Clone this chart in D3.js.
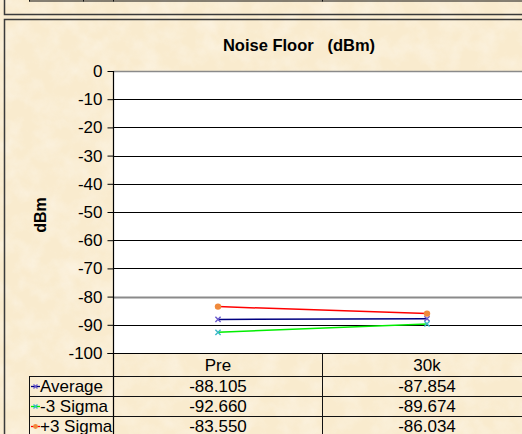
<!DOCTYPE html>
<html>
<head>
<meta charset="utf-8">
<script src="https://cdn.jsdelivr.net/npm/d3@7"></script>
<style>
  html, body { margin: 0; padding: 0; background: #fbefd6; }
  svg { display: block; }
  text { font-family: "Liberation Sans", Arial, sans-serif; }
</style>
</head>
<body>
<svg id="chart" width="522" height="434"></svg>
<script>
// Noise floor measurements per condition
const categories = ["Pre", "30k"];
const seriesNames = ["Average", "-3 Sigma", "+3 Sigma"];
const averageValues = [-88.105, -87.854];
const minus3SigmaValues = [-92.660, -89.674];
const plus3SigmaValues = [-83.550, -86.034];
const valueLabels = [
  ["-88.105", "-87.854"],
  ["-92.660", "-89.674"],
  ["-83.550", "-86.034"]
];
const yTicks = [0, -10, -20, -30, -40, -50, -60, -70, -80, -90, -100];

const series = [
  { name: seriesNames[0], values: averageValues, line: "#000080", marker: "#6a5acd", shape: "x" },
  { name: seriesNames[1], values: minus3SigmaValues, line: "#00ee00", marker: "#3bb8c8", shape: "x" },
  { name: seriesNames[2], values: plus3SigmaValues, line: "#ff0000", marker: "#f08a3c", shape: "circle" }
];

const W = 522, H = 434;
const FONT = "'Liberation Sans', Arial, sans-serif";
const plot = { left: 113.5, right: 531.5, top: 71, bottom: 353 };
const svg = d3.select("#chart");

// parchment background
const defs = svg.append("defs");
const f = defs.append("filter").attr("id", "paper").attr("x", 0).attr("y", 0).attr("width", "100%").attr("height", "100%");
f.append("feTurbulence").attr("type", "fractalNoise").attr("baseFrequency", 0.05).attr("numOctaves", 4).attr("seed", 7).attr("result", "n");
f.append("feColorMatrix").attr("in", "n").attr("type", "matrix")
  .attr("values", "0 0 0 0 1  0 0 0 0 1  0 0 0 0 1  1.2 0 0 0 -0.45");
svg.append("rect").attr("width", W).attr("height", H).attr("fill", "#f9ebce");
svg.append("rect").attr("width", W).attr("height", H).attr("fill", "#fffcf4").attr("filter", "url(#paper)").attr("opacity", 0.55);

// bottom edge of the panel above
svg.append("rect").attr("x", 4.5).attr("y", -40).attr("width", 560).attr("height", 54.5)
  .attr("fill", "none").attr("stroke", "#3a3a3a").attr("stroke-width", 1.5);
svg.append("line").attr("x1", 29).attr("x2", W).attr("y1", 1).attr("y2", 1).attr("stroke", "#111").attr("stroke-width", 1.2);
[29.5, 83.5, 113.5, 322.5].forEach(x => {
  svg.append("line").attr("x1", x).attr("x2", x).attr("y1", -5).attr("y2", 1.5).attr("stroke", "#111");
});

// chart panel
svg.append("rect").attr("x", 4.5).attr("y", 19.5).attr("width", 560).attr("height", 440)
  .attr("fill", "none").attr("stroke", "#3a3a3a").attr("stroke-width", 1.5);

const x = d3.scaleBand().domain(categories).range([plot.left, plot.right]);
const y = d3.scaleLinear().domain([-100, 0]).range([plot.bottom, plot.top]);
const cx = c => x(c) + x.bandwidth() / 2;

// plot area
svg.append("rect").attr("x", plot.left).attr("y", plot.top)
  .attr("width", plot.right - plot.left).attr("height", plot.bottom - plot.top).attr("fill", "#fff");

// gridlines
svg.append("g").selectAll("line").data(yTicks.filter(t => t > -100)).join("line")
  .attr("x1", plot.left).attr("x2", W)
  .attr("y1", d => Math.round(y(d)) + 0.5).attr("y2", d => Math.round(y(d)) + 0.5)
  .attr("stroke", d => (d === 0 || d === -80) ? "#8a8a8a" : "#000")
  .attr("stroke-width", d => d === -80 ? 1.8 : (d === 0 ? 1.5 : 1));

// y axis
const yAxis = d3.axisLeft(y).tickValues(yTicks).tickSize(6).tickPadding(5).tickFormat(d => String(d));
const ga = svg.append("g").attr("transform", `translate(${plot.left},0)`).call(yAxis);
ga.select(".domain").remove();
ga.attr("font-family", FONT).attr("font-size", 17);
ga.selectAll(".tick line").attr("stroke", "#000");
ga.selectAll(".tick text").attr("fill", "#000");
svg.append("line").attr("x1", plot.left).attr("x2", plot.left).attr("y1", plot.top).attr("y2", H)
  .attr("stroke", "#000").attr("stroke-width", 1.2);
svg.append("line").attr("x1", plot.left - 6).attr("x2", W).attr("y1", plot.bottom + 0.5).attr("y2", plot.bottom + 0.5)
  .attr("stroke", "#000").attr("stroke-width", 1.2);

// title and axis title
svg.append("text").attr("x", 299).attr("y", 51).attr("text-anchor", "middle")
  .attr("font-size", 16.5).attr("font-weight", "bold").attr("xml:space", "preserve").style("white-space", "pre")
  .text("Noise Floor   (dBm)");
svg.append("text").attr("transform", "translate(46,215) rotate(-90)").attr("text-anchor", "middle")
  .attr("font-size", 16).attr("font-weight", "bold").text("dBm");

// marker drawing
function drawMarker(g, shape, color, px, py, r) {
  if (shape === "circle") {
    g.append("circle").attr("cx", px).attr("cy", py).attr("r", r).attr("fill", color);
  } else {
    g.append("path").attr("d", `M${px - r},${py - r}L${px + r},${py + r}M${px - r},${py + r}L${px + r},${py - r}`)
      .attr("stroke", color).attr("stroke-width", 1.4).attr("fill", "none");
  }
}

// series lines
const line = d3.line().x((d, i) => cx(categories[i])).y(d => y(d));
series.forEach(s => {
  const g = svg.append("g");
  g.append("path").datum(s.values).attr("d", line).attr("fill", "none")
    .attr("stroke", s.line).attr("stroke-width", 1.5);
  s.values.forEach((v, i) => drawMarker(g, s.shape, s.marker, cx(categories[i]), y(v), s.shape === "circle" ? 3.2 : 2.6));
});

// data table under the plot
const rowTop = [353.5, 376.5, 396.5, 416.5, 436.5];
const tbl = svg.append("g").attr("font-size", 17);
tbl.selectAll("line.h").data(rowTop.slice(1, 4)).join("line")
  .attr("x1", 29).attr("x2", W).attr("y1", d => d).attr("y2", d => d).attr("stroke", "#111");
tbl.append("line").attr("x1", 29.5).attr("x2", 29.5).attr("y1", rowTop[1]).attr("y2", H).attr("stroke", "#111");
tbl.append("line").attr("x1", 322.5).attr("x2", 322.5).attr("y1", rowTop[0]).attr("y2", H).attr("stroke", "#111");

tbl.selectAll("text.cat").data(categories).join("text")
  .attr("x", d => cx(d)).attr("y", 371).attr("text-anchor", "middle").text(d => d);

series.forEach((s, r) => {
  const yy = (rowTop[r + 1] + rowTop[r + 2]) / 2;
  tbl.append("line").attr("x1", 31).attr("x2", 40).attr("y1", yy).attr("y2", yy)
    .attr("stroke", s.line).attr("stroke-width", 1.3);
  drawMarker(tbl, s.shape, s.marker, 35.5, yy, s.shape === "circle" ? 2.4 : 2);
  tbl.append("text").attr("x", 40).attr("y", yy + 5).text(s.name);
  categories.forEach((c, i) => {
    tbl.append("text").attr("x", cx(c)).attr("y", yy + 5).attr("text-anchor", "middle")
      .text(valueLabels[r][i]);
  });
});
</script>
</body>
</html>
